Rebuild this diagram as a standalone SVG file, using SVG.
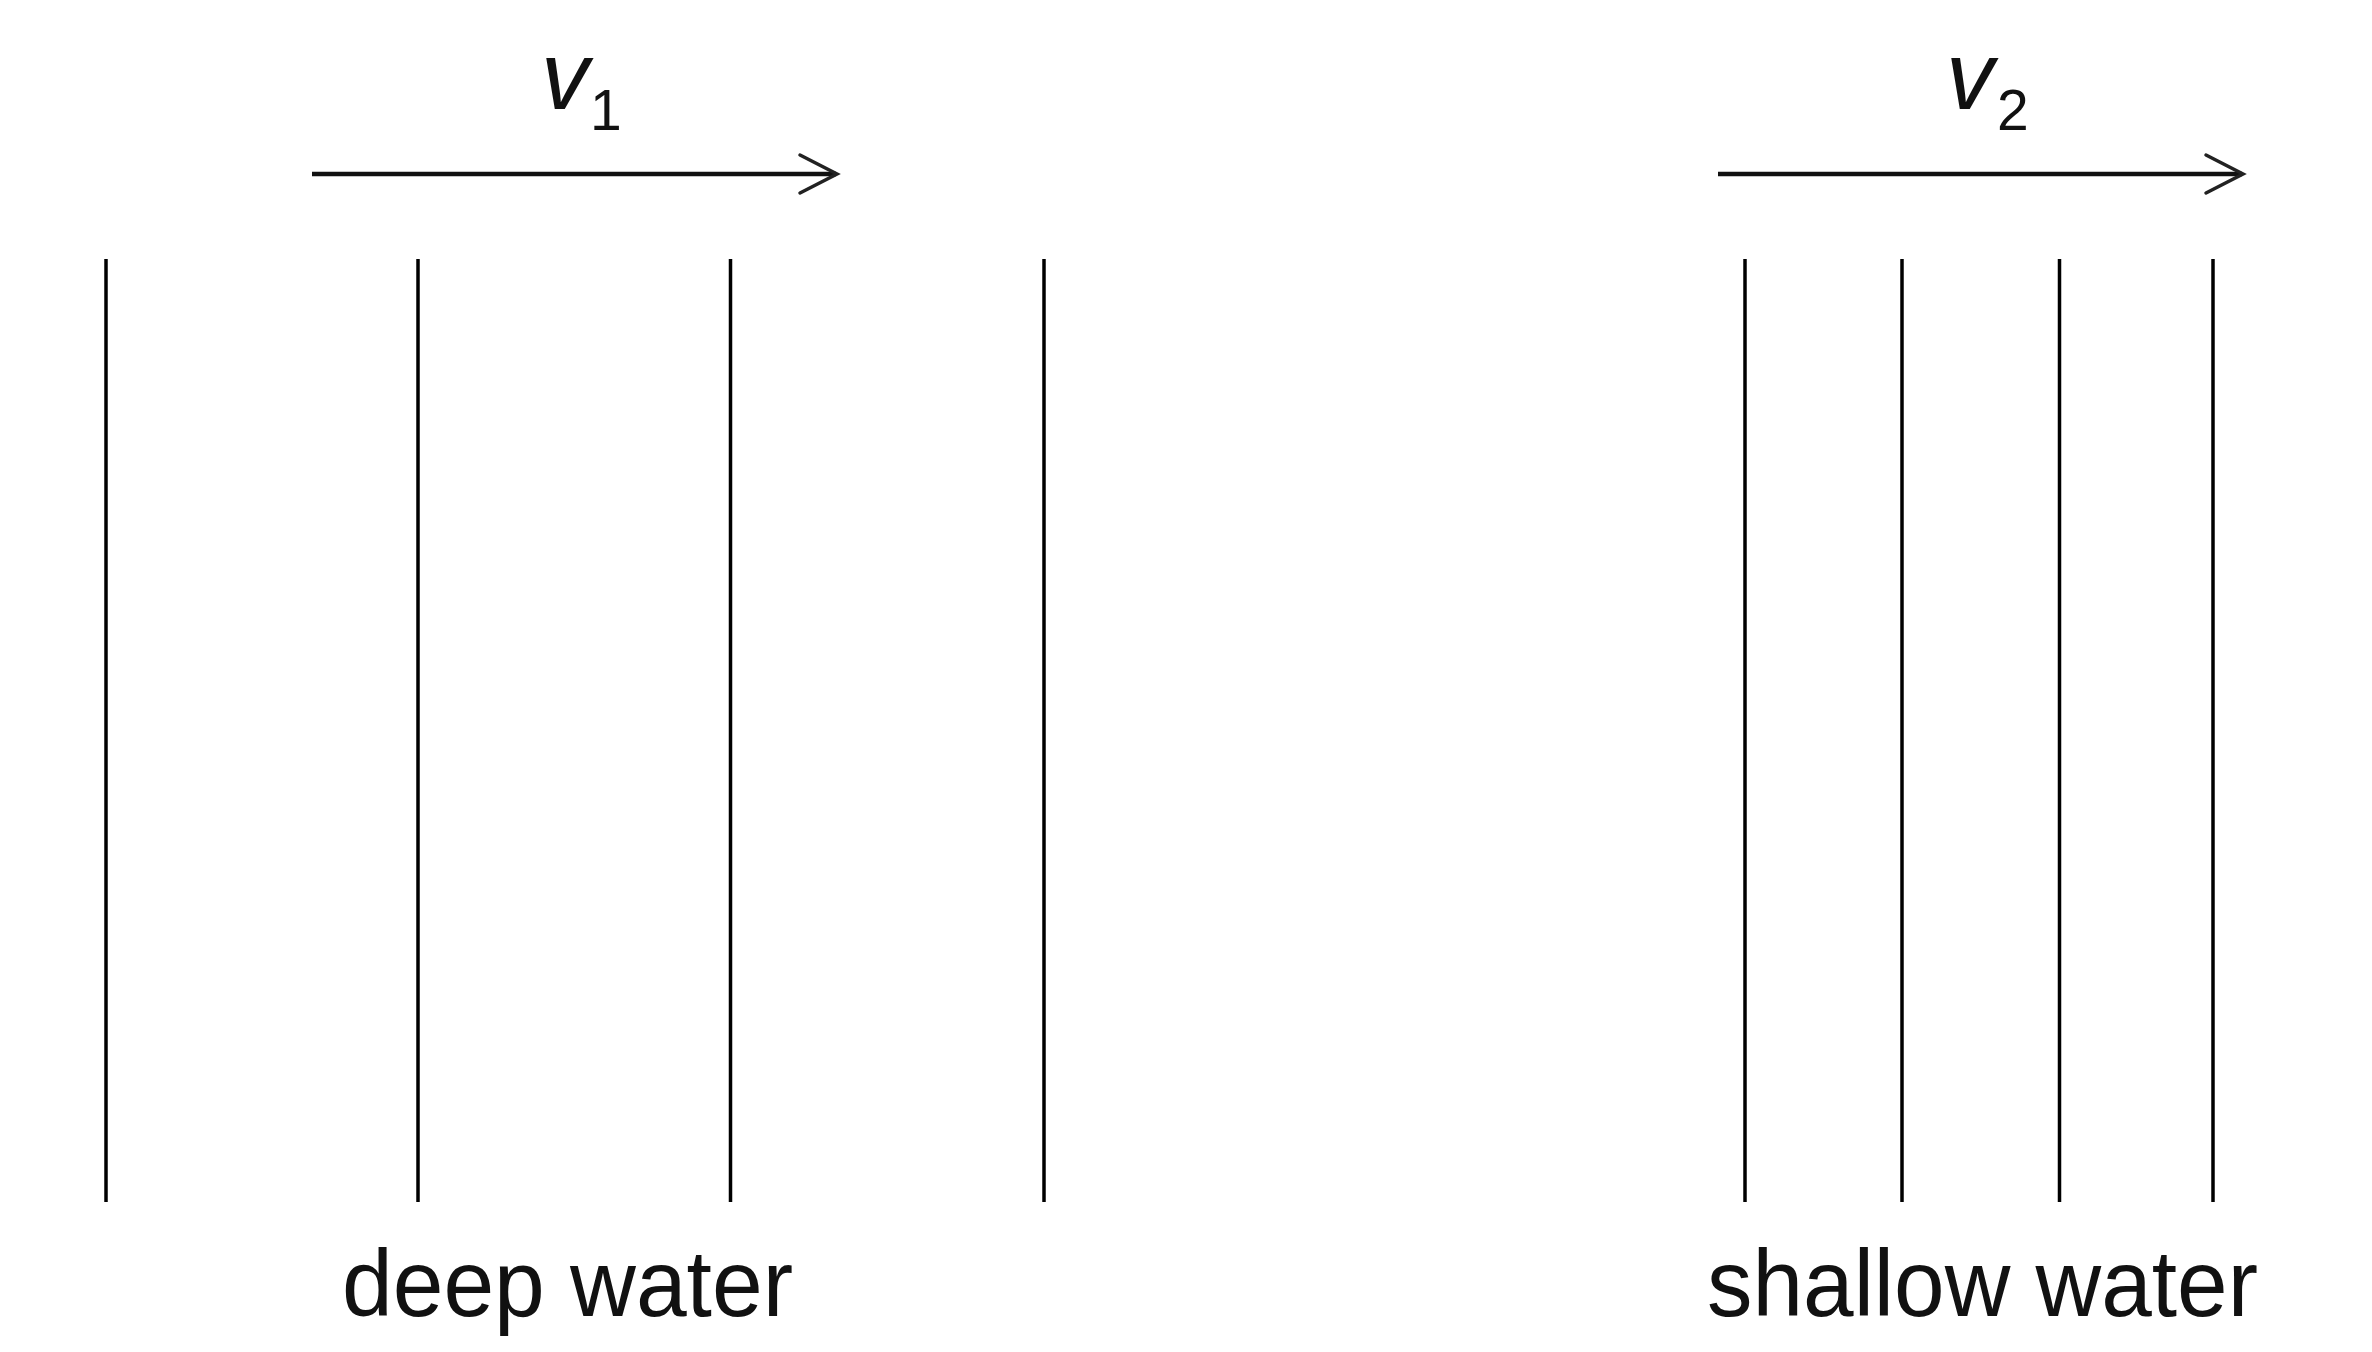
<svg xmlns="http://www.w3.org/2000/svg" width="2372" height="1352" viewBox="0 0 2372 1352">
<style>
.wave{stroke:#000;stroke-width:3.5;fill:none}
.arr{stroke:#111;stroke-width:4.5;fill:none}
.head{stroke:#222;stroke-width:3.5;fill:none;stroke-linecap:round;stroke-linejoin:miter}
.lbl{font-family:"Liberation Sans",Arial,sans-serif;font-size:95px;fill:#111}
.v{font-family:"Liberation Sans",Arial,sans-serif;font-size:96px;font-style:italic;fill:#111}
.sub{font-family:"Liberation Sans",Arial,sans-serif;font-size:57px;fill:#111}
</style>
<rect width="2372" height="1352" fill="#fff"/>
<g id="deep-waves">
<line class="wave" x1="106" y1="259" x2="106" y2="1202"/>
<line class="wave" x1="418" y1="259" x2="418" y2="1202"/>
<line class="wave" x1="730.5" y1="259" x2="730.5" y2="1202"/>
<line class="wave" x1="1044" y1="259" x2="1044" y2="1202"/>
</g>
<g id="shallow-waves">
<line class="wave" x1="1745" y1="259" x2="1745" y2="1202"/>
<line class="wave" x1="1902" y1="259" x2="1902" y2="1202"/>
<line class="wave" x1="2059.5" y1="259" x2="2059.5" y2="1202"/>
<line class="wave" x1="2213" y1="259" x2="2213" y2="1202"/>
</g>
<g id="connectors">
<g id="arrow-v1">
<line class="arr" x1="312" y1="174" x2="836" y2="174"/>
<polyline class="head" points="800,155 837,174 800,193"/>
</g>
<g id="arrow-v2">
<line class="arr" x1="1718" y1="174" x2="2242" y2="174"/>
<polyline class="head" points="2206,155 2243,174 2206,193"/>
</g>
</g>
<g id="label-v1"><text class="v" x="541" y="108.5">v</text><text class="sub" x="590" y="130">1</text></g>
<g id="label-v2"><text class="v" x="1946" y="108.5">v</text><text class="sub" x="1997" y="130">2</text></g>
<g id="label-deep"><text class="lbl" x="342" y="1316" textLength="451" lengthAdjust="spacingAndGlyphs">deep water</text></g>
<g id="label-shallow"><text class="lbl" x="1707" y="1316" textLength="551" lengthAdjust="spacingAndGlyphs">shallow water</text></g>
</svg>
